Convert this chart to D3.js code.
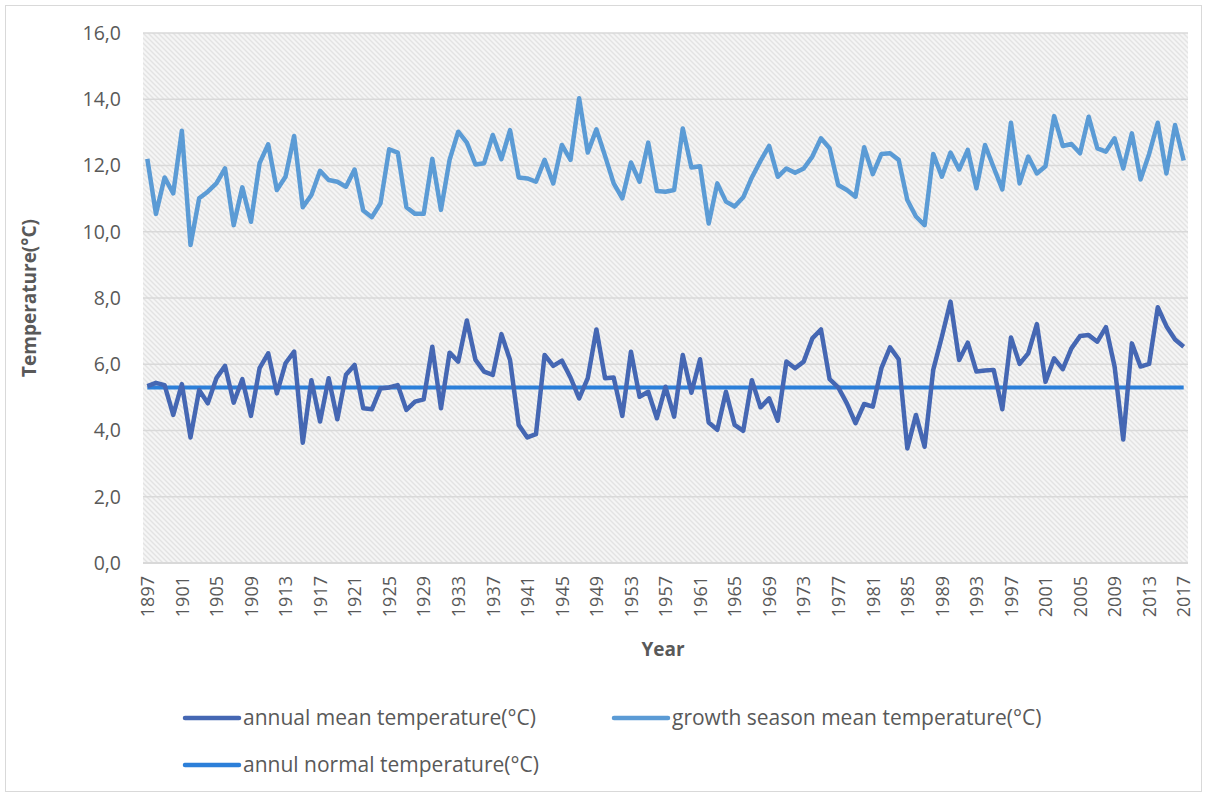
<!DOCTYPE html>
<html><head><meta charset="utf-8">
<script src="https://cdn.jsdelivr.net/npm/d3@7"></script>
<style>body{margin:0;background:#fff;} text{font-family:"Open Sans","Liberation Sans",sans-serif;}</style>
</head><body>
<svg id="c" width="1208" height="794"></svg>
<script>
const startYear = 1897;
const growthSeason = [12.2,10.54,11.64,11.16,13.05,9.6,11.01,11.21,11.46,11.91,10.2,11.34,10.3,12.07,12.64,11.26,11.66,12.89,10.74,11.11,11.84,11.56,11.51,11.36,11.88,10.64,10.44,10.86,12.49,12.39,10.74,10.54,10.54,12.2,10.66,12.17,13.02,12.69,12.03,12.07,12.92,12.19,13.07,11.64,11.61,11.51,12.17,11.46,12.62,12.17,14.03,12.39,13.09,12.29,11.46,11.01,12.09,11.51,12.69,11.23,11.21,11.26,13.12,11.94,11.98,10.25,11.46,10.91,10.76,11.04,11.64,12.14,12.59,11.66,11.91,11.78,11.91,12.27,12.82,12.52,11.41,11.26,11.06,12.55,11.74,12.35,12.37,12.17,10.96,10.46,10.2,12.35,11.66,12.39,11.88,12.47,11.31,12.62,11.94,11.28,13.29,11.46,12.27,11.76,11.98,13.49,12.59,12.65,12.37,13.47,12.52,12.42,12.82,11.91,12.97,11.58,12.35,13.29,11.76,13.22,12.15];
const annualMean = [5.34,5.44,5.37,4.47,5.4,3.79,5.22,4.82,5.58,5.95,4.84,5.55,4.44,5.88,6.33,5.12,6.03,6.38,3.63,5.52,4.27,5.58,4.34,5.68,5.98,4.67,4.64,5.27,5.3,5.37,4.62,4.87,4.94,6.53,4.67,6.35,6.08,7.32,6.13,5.78,5.68,6.91,6.13,4.17,3.79,3.89,6.28,5.95,6.11,5.6,4.97,5.58,7.05,5.58,5.6,4.44,6.38,5.02,5.17,4.37,5.32,4.42,6.28,5.14,6.15,4.24,4.02,5.17,4.17,3.99,5.52,4.7,4.97,4.3,6.08,5.88,6.08,6.78,7.05,5.55,5.3,4.82,4.22,4.8,4.72,5.88,6.51,6.15,3.46,4.47,3.51,5.83,6.83,7.89,6.13,6.65,5.78,5.81,5.83,4.64,6.81,6.01,6.33,7.21,5.47,6.18,5.85,6.48,6.85,6.88,6.68,7.12,5.93,3.73,6.63,5.93,6.01,7.72,7.15,6.75,6.53];
const normalValue = 5.3;
const years = annualMean.map((d,i)=>startYear+i);
const normalSeries = years.map(()=>normalValue);
const yTicks = [0,2,4,6,8,10,12,14,16];
const xTickYears = years.filter((y,i)=>i%4===0);
const seriesNames = ["annual mean temperature(°C)","growth season mean temperature(°C)","annul normal temperature(°C)"];
const colors = ["#4567B3","#5B9BD5","#2C7FD9"];

const svg = d3.select("#c");
const L=143,R=1188,T=33,B=563;
const x = d3.scalePoint().domain(years).range([L,R]).padding(0.5);
const y = d3.scaleLinear().domain([0,16]).range([B,T]);

svg.append("rect").attr("x",5.5).attr("y",5.5).attr("width",1196).attr("height",786).attr("fill","#fff").attr("stroke","#D9D9D9").attr("stroke-width",1);

const defs = svg.append("defs");
const pat = defs.append("pattern").attr("id","hatch").attr("patternUnits","userSpaceOnUse").attr("width",5).attr("height",5);
pat.append("rect").attr("width",5).attr("height",5).attr("fill","#F5F5F5");
pat.append("path").attr("d","M-1,4 l2,2 M0,0 l5,5 M4,-1 l2,2").attr("stroke","#E3E3E3").attr("stroke-width",1.4);
svg.append("rect").attr("x",L).attr("y",T).attr("width",R-L).attr("height",B-T).attr("fill","url(#hatch)");

// gridlines
svg.append("g").selectAll("line").data(yTicks).join("line")
 .attr("x1",L).attr("x2",R).attr("y1",d=>y(d)).attr("y2",d=>y(d))
 .attr("stroke","#D9D9D9").attr("stroke-width",d=>d===0?2:1.5);

// y axis labels
const yAxis = d3.axisLeft(y).tickValues(yTicks).tickSize(0).tickPadding(22).tickFormat(d=>d3.format(".1f")(d).replace(".",","));
const gy = svg.append("g").attr("transform",`translate(${L},0)`).call(yAxis);
gy.select(".domain").remove();
gy.selectAll("text").attr("font-size",19.5).attr("fill","#595959").attr("font-family","'Open Sans',sans-serif");

// x axis labels
const xAxis = d3.axisBottom(x).tickValues(xTickYears).tickSize(0).tickPadding(0);
const gx = svg.append("g").attr("transform",`translate(0,${B})`).call(xAxis);
gx.select(".domain").remove();
gx.selectAll("text").attr("font-size",18).attr("fill","#595959")
 .attr("text-anchor","end").attr("transform","rotate(-90)").attr("x",-13).attr("y",0).attr("dy","0.35em");

// lines
const line = d3.line().x((d,i)=>x(years[i])).y(d=>y(d));
svg.append("path").datum(normalSeries).attr("d",line).attr("fill","none").attr("stroke",colors[2]).attr("stroke-width",4);
svg.append("path").datum(growthSeason).attr("d",line).attr("fill","none").attr("stroke",colors[1]).attr("stroke-width",4.5).attr("stroke-linejoin","round");
svg.append("path").datum(annualMean).attr("d",line).attr("fill","none").attr("stroke",colors[0]).attr("stroke-width",4.5).attr("stroke-linejoin","round");

// axis titles
svg.append("text").attr("transform","translate(36,298) rotate(-90)").attr("text-anchor","middle")
 .attr("font-size",19).attr("font-weight","bold").attr("fill","#595959").text("Temperature(°C)");
svg.append("text").attr("x",663).attr("y",656).attr("text-anchor","middle")
 .attr("font-size",19).attr("font-weight","bold").attr("fill","#595959").text("Year");

// legend
const legendItems = [
 {name:seriesNames[0],color:colors[0],lx:185,ty:718},
 {name:seriesNames[1],color:colors[1],lx:614,ty:718},
 {name:seriesNames[2],color:colors[2],lx:185,ty:765}];
const lg = svg.append("g").selectAll("g").data(legendItems).join("g");
lg.append("line").attr("x1",d=>d.lx).attr("x2",d=>d.lx+54).attr("y1",d=>d.ty).attr("y2",d=>d.ty)
 .attr("stroke",d=>d.color).attr("stroke-width",4.5).attr("stroke-linecap","round");
lg.append("text").attr("x",d=>d.lx+58).attr("y",d=>d.ty).attr("dy","0.35em")
 .attr("font-size",21).attr("fill","#595959").text(d=>d.name);
</script>
</body></html>
